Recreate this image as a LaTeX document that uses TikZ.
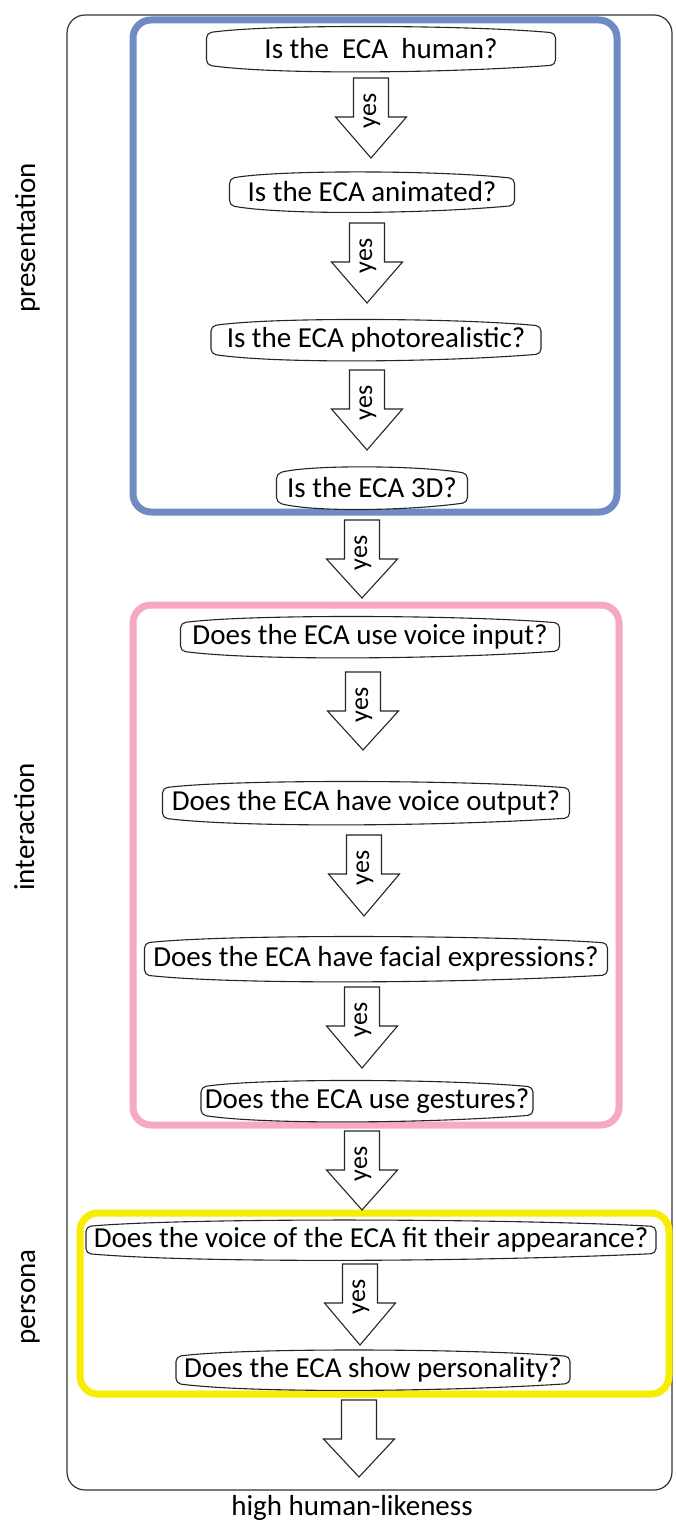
\documentclass[tikz,border=0pt]{standalone}
\usepackage{fontspec}
\setmainfont{Carlito}
\usetikzlibrary{calc}

\definecolor{presblue}{RGB}{112,138,196}
\definecolor{interpink}{RGB}{246,168,196}
\definecolor{persyellow}{RGB}{248,236,0}

\tikzset{
  qtext/.style={font=\fontsize{14.5}{17}\selectfont, inner sep=0pt, text=black},
  scrollline/.style={draw=black!85, line width=0.55pt, fill=white, rounded corners=2.5pt},
  groupframe/.style={line width=3.5pt, rounded corners=9pt},
  outerframe/.style={draw=black!80, line width=0.6pt, rounded corners=9pt},
  blockarrow/.style={draw=black!85, line width=0.55pt, fill=white, line join=miter},
  yeslabel/.style={font=\fontsize{13}{15}\selectfont, rotate=90, inner sep=0pt},
  sidelabel/.style={font=\fontsize{14.5}{17}\selectfont, rotate=90, inner sep=0pt, anchor=base},
}

% question box: name, centre x, centre y, width, height, text
\newcommand\qbox[6]{%
  \draw[scrollline]
    ({#2-#4/2},{#3-#5/2+5})
      .. controls ({#2-#4/2+0.18*#4},{#3-#5/2-4}) and ({#2+#4/2-0.25*#4},{#3-#5/2-3}) ..
    ({#2+#4/2},{#3-#5/2+5})
    -- ({#2+#4/2},{#3+#5/2-5})
      .. controls ({#2+#4/2-0.3*#4},{#3+#5/2+3}) and ({#2-#4/2+0.2*#4},{#3+#5/2+5}) ..
    ({#2-#4/2},{#3+#5/2-5}) -- cycle;
  \node[qtext, minimum width={#4*0.5pt}, minimum height={#5*0.5pt}] (#1) at (#2,#3) {#6};
}

% downward block arrow: name, x, top y, tip y, label
\newcommand\yesarrow[5]{%
  \coordinate (#1top) at (#2,#3);
  \coordinate (#1tip) at (#2,#4);
  \draw[blockarrow]
    ($(#1top)+(-17.5,0)$) -- ($(#1top)+(17.5,0)$) -- ($(#1top)+(17.5,39)$)
    -- ($(#1top)+(35.5,39)$) -- (#1tip) -- ($(#1top)+(-35.5,39)$)
    -- ($(#1top)+(-17.5,39)$) -- cycle;
  \node[yeslabel] (#1lbl) at ($(#1top)+(1,33)$) {#5};
}

\begin{document}
\begin{tikzpicture}[x=0.5pt, y=-0.5pt]
  \useasboundingbox (0,0) rectangle (675,1524);
  \fill[white] (0,0) rectangle (675,1524);

  % outer frame
  \draw[outerframe] (67,15) rectangle (672,1490);

  % group frames
  \draw[groupframe, draw=presblue] (133,20) rectangle (617,512);
  \draw[groupframe, draw=interpink] (133,605) rectangle (619,1125);
  \draw[groupframe, draw=persyellow] (80,1213) rectangle (669,1394);

  % side labels
  \node[sidelabel] (lpres)  at (35,238)  {presentation};
  \node[sidelabel] (linter) at (34,827)  {interaction};
  \node[sidelabel] (lpers)  at (35,1297) {persona};

  % questions
  \qbox{q1}{381}{49}{349}{42}{Is the\ \ ECA\ \ human?}
  \qbox{q2}{372}{192}{285}{37}{Is the ECA animated?}
  \qbox{q3}{376}{340}{330}{38}{Is the ECA photorealistic?}
  \qbox{q4}{372}{488}{191}{39}{Is the ECA 3D?}
  \qbox{q5}{370}{637}{379}{38}{Does the ECA use voice input?}
  \qbox{q6}{366}{803}{407}{40}{Does the ECA have voice output?}
  \qbox{q7}{376}{959}{463}{42}{Does the ECA have facial expressions?}
  \qbox{q8}{367}{1101}{332}{38}{Does the ECA use gestures?}
  \qbox{q9}{371}{1240}{570}{37}{Does the voice of the ECA fit their appearance?}
  \qbox{q10}{373}{1370}{394}{37}{Does the ECA show personality?}

  % arrows between questions
  \yesarrow{a1}{371}{78}{158}{yes}
  \yesarrow{a2}{367}{223}{303}{yes}
  \yesarrow{a3}{367}{370}{450}{yes}
  \yesarrow{a4}{362}{520}{598}{yes}
  \yesarrow{a5}{363}{672}{750}{yes}
  \yesarrow{a6}{364}{835}{916}{yes}
  \yesarrow{a7}{362}{987}{1068}{yes}
  \yesarrow{a8}{362}{1131}{1210}{yes}
  \yesarrow{a9}{360}{1264}{1345}{yes}
  \yesarrow{a10}{359}{1400}{1477}{}

  % result
  \node[qtext] (result) at (352,1508) {high human-likeness};
\end{tikzpicture}
\end{document}
